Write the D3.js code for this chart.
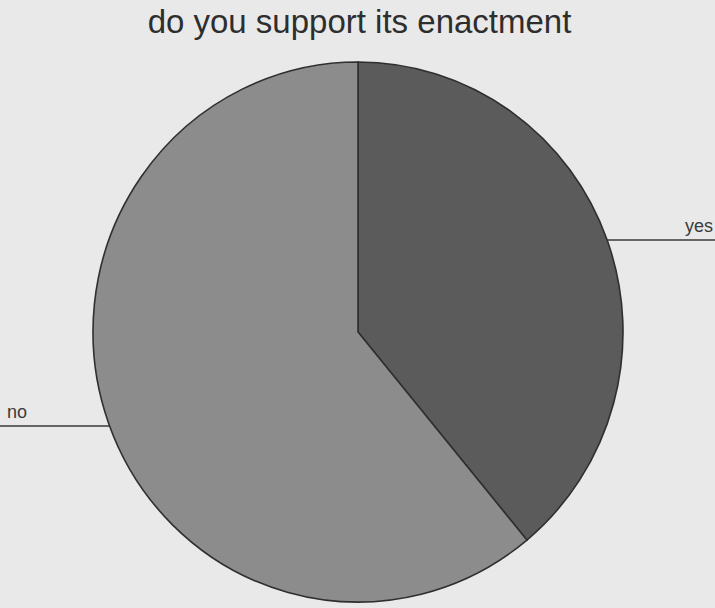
<!DOCTYPE html>
<html>
<head>
<meta charset="utf-8">
<script src="https://cdn.jsdelivr.net/npm/d3@7"></script>
<style>
  html, body { margin: 0; padding: 0; background: #e9e9e9; }
  svg { display: block; }
</style>
</head>
<body>
<svg id="chart" width="715" height="608"></svg>
<script>
const title = "do you support its enactment";
const categories = ["yes", "no"];
const values = [39, 61];
const colors = ["#5b5b5b", "#8c8c8c"];

const W = 715, H = 608;
const cx = 358, cy = 332, rx = 265, ry = 270;

const svg = d3.select("#chart");
svg.append("rect").attr("width", W).attr("height", H).attr("fill", "#e9e9e9");

svg.append("text")
  .attr("x", 359.5).attr("y", 33)
  .attr("text-anchor", "middle")
  .attr("font-family", "Liberation Sans, Arial, sans-serif")
  .attr("font-size", 33)
  .attr("fill", "#2e2e2e")
  .text(title);

const pie = d3.pie().sort(null).value(d => d.v);
const arcs = pie(categories.map((c, i) => ({ c, v: values[i], col: colors[i] })));
const arc = d3.arc().innerRadius(0).outerRadius(ry);

const g = svg.append("g")
  .attr("transform", `translate(${cx},${cy}) scale(${rx / ry},1)`);

g.selectAll("path")
  .data(arcs)
  .join("path")
  .attr("d", arc)
  .attr("fill", d => d.data.col)
  .attr("stroke", "#2f2f2f")
  .attr("stroke-width", 1.6)
  .attr("vector-effect", "non-scaling-stroke");

// leader lines and labels, positioned from the slice mid-angles
const labelFont = "Liberation Sans, Arial, sans-serif";
const leaderY = { yes: 240, no: 426 };
arcs.forEach(d => {
  const name = d.data.c;
  const ly = leaderY[name];
  const dy = ly - cy;
  const half = rx * Math.sqrt(1 - (dy * dy) / (ry * ry));
  const mid = (d.startAngle + d.endAngle) / 2;
  const right = Math.sin(mid) > 0;
  const x0 = right ? cx + half : cx - half;
  const x1 = right ? W : 0;
  svg.append("line")
    .attr("x1", x0).attr("x2", x1)
    .attr("y1", ly).attr("y2", ly)
    .attr("stroke", "#3a3a3a").attr("stroke-width", 1.6);
  svg.append("text")
    .attr("x", right ? 713 : 7)
    .attr("y", ly - 8)
    .attr("text-anchor", right ? "end" : "start")
    .attr("font-family", labelFont)
    .attr("font-size", 18)
    .attr("fill", "#3a3a3a")
    .text(name);
});
</script>
</body>
</html>
